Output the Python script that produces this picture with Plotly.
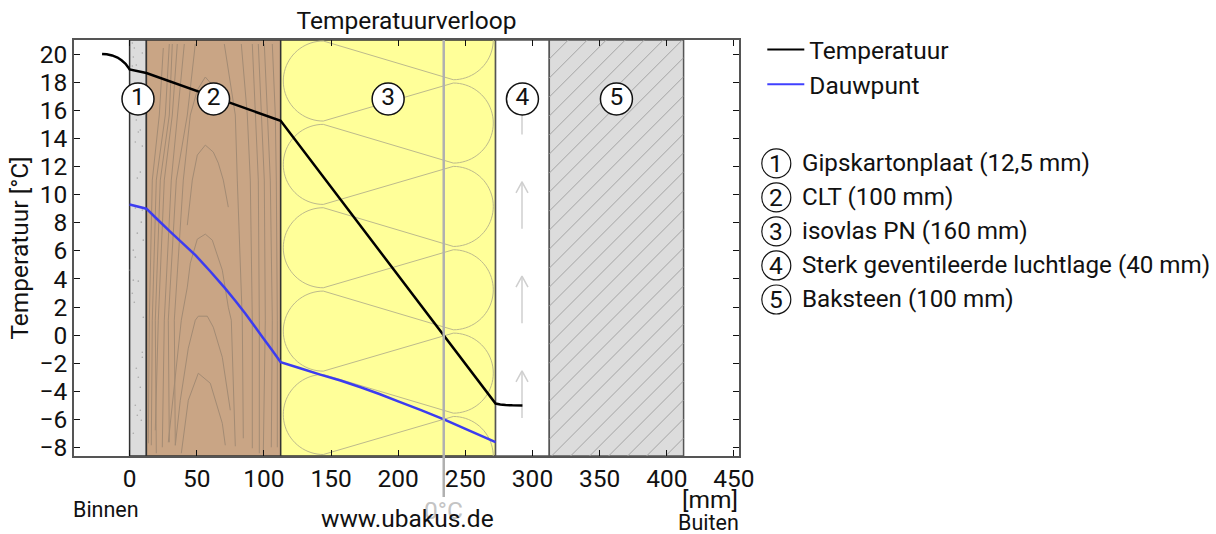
import math
import plotly.graph_objects as go

FONT = "Roboto"
W, H = 1216, 534
L, R, T, B = 73.7, 738.7, 40.0, 455.7
X0, XS = 129.3, 1.343   # pixel of 0 mm, px per mm
Y0, YS = 335.0, 14.05   # pixel of 0 degC, px per degC
BIG, LIST, SMALL = 24.5, 24.2, 21.5


def xd(px):
    return (px - X0) / XS


def yd(py):
    return (Y0 - py) / YS


def px_x(px):
    return (px - L) / (R - L)


def px_y(py):
    return 1 - (py - T) / (B - T)


# --- data -------------------------------------------------------------
temp_x = [-20.5, -17, -13, -9, -6, -3, -1, 0, 12.5, 112.5, 272.5, 276, 280, 285, 292.5]
temp_y = [20.0, 19.98, 19.9, 19.75, 19.55, 19.3, 19.05, 18.9, 18.65, 15.25, -4.86, -4.93, -4.97, -4.99, -5.0]
dew_x = [0, 12.5, 20, 30, 40, 49, 60, 71, 79, 86, 92, 99, 106, 112.5, 127, 142, 157, 172, 186, 200, 217, 234, 253, 272.5]
dew_y = [9.3, 9.0, 8.3, 7.38, 6.5, 5.69, 4.55, 3.35, 2.42, 1.56, 0.78, -0.14, -1.05, -1.92, -2.35, -2.8, -3.22, -3.7, -4.18, -4.7, -5.33, -5.98, -6.78, -7.6]

layer_names = ["Gipskartonplaat (12,5 mm)", "CLT (100 mm)", "isovlas PN (160 mm)",
               "Sterk geventileerde luchtlage (40 mm)", "Baksteen (100 mm)"]
layer_edges = [0, 12.5, 112.5, 272.5, 312.5, 412.5]
layer_fill = ["#dcdcdc", "#c9a585", "#ffff99", "#ffffff", "#dcdcdc"]
layer_line = ["#333333", "#333333", "#333333", "#555555", "#555555"]
layer_numbers = ["1", "2", "3", "4", "5"]
x_ticks = [0, 50, 100, 150, 200, 250, 300, 350, 400, 450]
y_ticks = [-8, -6, -4, -2, 0, 2, 4, 6, 8, 10, 12, 14, 16, 18, 20]
zero_crossing_mm = 233.9

# texture of the wood in pixels
grain_lines = [
    [(163, 48), (159, 115), (152, 180), (149, 320), (148, 443)],
    [(169, 44), (165, 115), (156, 180), (152, 320), (151, 445)],
    [(172, 44), (169, 115), (160, 180), (155, 320), (156, 453)],
    [(177, 44), (172, 115), (164, 180), (158, 320), (155, 430)],
    [(184, 44), (177, 115), (171, 180), (164, 320), (162, 447)],
    [(195, 44), (187, 115), (176, 180), (168, 320), (169, 442)],
    [(197, 90), (205, 77), (212, 85), (216, 95)],
    [(197, 90), (190, 115), (183, 180), (174, 320), (175, 445)],
    [(197, 155), (205, 145), (213, 152), (218, 163), (223, 180), (228, 207)],
    [(197, 155), (192, 180), (187, 225)],
    [(197, 239), (205, 234), (212, 240), (222, 270), (228, 307), (231, 320), (235, 446)],
    [(197, 239), (190, 263), (187, 287), (181, 320), (168, 442)],
    [(195, 320), (198, 316), (207, 316), (213, 327), (222, 357), (230, 410)],
    [(195, 320), (188, 348), (180, 400), (175, 445)],
    [(188, 400), (198, 373), (210, 383), (222, 423), (225, 445)],
    [(188, 400), (181, 453)],
    [(224, 44), (235, 115), (237, 180), (242, 320), (243, 438)],
    [(241, 44), (247, 115), (250, 180), (252, 320), (252, 448)],
    [(252, 44), (255, 115), (258, 180), (259, 320), (259, 453)],
    [(258, 44), (261, 115), (264, 180), (265, 320), (263, 453)],
    [(264, 44), (267, 115), (270, 180), (272, 320), (271, 447)],
    [(272, 44), (275, 115), (276, 180), (277, 320), (277, 447)],
]
# plaster speckles in pixels
speckle_px = [(132, 43), (134, 48), (133, 57), (142, 53), (136, 65), (132, 66), (140, 72),
              (136, 120), (140, 130), (138, 132), (135, 142), (142, 146), (140, 172), (137, 178),
              (135, 208), (142, 210), (141, 222), (137, 233), (143, 240), (133, 250), (135, 257),
              (130, 270), (133, 280), (138, 281), (132, 293), (134, 302), (143, 317), (142, 352),
              (142, 357), (136, 368), (138, 377), (140, 387), (135, 405), (140, 410), (137, 415),
              (141, 420), (133, 433)]

fig = go.Figure()

# --- texture traces ---------------------------------------------------
for line in grain_lines:
    fig.add_trace(go.Scatter(x=[xd(p[0]) for p in line], y=[yd(p[1]) for p in line], mode="lines",
                             line=dict(color="#a38b74", width=1), showlegend=False, hoverinfo="skip"))

fig.add_trace(go.Scatter(x=[xd(p[0]) for p in speckle_px], y=[yd(p[1]) for p in speckle_px], mode="markers",
                         marker=dict(size=1.6, color="#a8a8a8"), showlegend=False, hoverinfo="skip"))

# insulation wave
wx, wy = [], []
CL, CR, RAD, PER = 323.0, 453.0, 40.0, 83.3
for k in range(-2, 7):
    cy = 81.0 + PER * k
    for i in range(0, 41):
        a = math.pi / 2 + math.pi * i / 40
        wx.append(xd(CL + RAD * math.cos(a)))
        wy.append(yd(cy - RAD * math.sin(a)))
    cy2 = 123.0 + PER * k
    for i in range(0, 41):
        a = math.pi / 2 - math.pi * i / 40
        wx.append(xd(CR + RAD * math.cos(a)))
        wy.append(yd(cy2 - RAD * math.sin(a)))
fig.add_trace(go.Scatter(x=wx, y=wy, mode="lines", line=dict(color="#bdba8c", width=1, simplify=False),
                         showlegend=False, hoverinfo="skip"))

# brick hatch
hx, hy = [], []
x1, x2 = 312.5 * XS + X0, 412.5 * XS + X0
for k in range(-3, 36):
    base = x1 + 19.0 * k
    a = (base, T)
    b = (base - (B - T), B)
    t1 = max(0.0, (a[0] - x2) / (a[0] - b[0]))
    t2 = min(1.0, (a[0] - x1) / (a[0] - b[0]))
    if t2 <= t1:
        continue
    hx += [xd(a[0] + (b[0] - a[0]) * t1), xd(a[0] + (b[0] - a[0]) * t2), None]
    hy += [yd(a[1] + (b[1] - a[1]) * t1), yd(a[1] + (b[1] - a[1]) * t2), None]
fig.add_trace(go.Scatter(x=hx, y=hy, mode="lines", line=dict(color="#a4a4a4", width=1),
                         showlegend=False, hoverinfo="skip"))

# air arrows
ax, ay = [], []
for tip in [87.4, 181.7, 276.0, 370.7]:
    ax += [xd(521.7), xd(521.7), None, xd(515.7), xd(521.7), xd(527.7), None]
    ay += [yd(tip + 47), yd(tip), None, yd(tip + 11), yd(tip), yd(tip + 11), None]
fig.add_trace(go.Scatter(x=ax, y=ay, mode="lines", line=dict(color="#cfcfcf", width=1.5),
                         showlegend=False, hoverinfo="skip"))

# --- data traces ------------------------------------------------------
fig.add_trace(go.Scatter(x=dew_x, y=dew_y, mode="lines", line=dict(color="#3c3cf0", width=2.5, simplify=False),
                         showlegend=False))
fig.add_trace(go.Scatter(x=temp_x, y=temp_y, mode="lines", line=dict(color="#000000", width=2.5, simplify=False),
                         showlegend=False))
fig.add_trace(go.Scatter(x=[None], y=[None], mode="lines", name="Temperatuur",
                         line=dict(color="#000000", width=2), legendgroup="a"))
fig.add_trace(go.Scatter(x=[None], y=[None], mode="lines", name="Dauwpunt",
                         line=dict(color="#4040ff", width=2), legendgroup="b"))

mids = [(layer_edges[i] + layer_edges[i + 1]) / 2 for i in range(5)]
fig.add_trace(go.Scatter(x=mids, y=[16.8] * 5, mode="markers+text", text=layer_numbers,
                         textposition="middle center", textfont=dict(family=FONT, size=BIG, color="#111111"),
                         marker=dict(size=32, color="white", line=dict(color="#111111", width=1.5)),
                         showlegend=False, hoverinfo="skip"))

# --- shapes -----------------------------------------------------------
shapes = []
for i in range(5):
    shapes.append(dict(type="rect", xref="x", yref="y", layer="below",
                       x0=layer_edges[i], x1=layer_edges[i + 1], y0=yd(B), y1=yd(T),
                       fillcolor=layer_fill[i], line=dict(color=layer_line[i], width=1.5)))
shapes.append(dict(type="line", xref="x", yref="paper", x0=zero_crossing_mm, x1=zero_crossing_mm,
                   y0=px_y(496.7), y1=1, line=dict(color="#b0b0b0", width=2.5), layer="above"))

annotations = []


def text(px, py, s, size, anchor="center", color="#111111"):
    annotations.append(dict(xref="paper", yref="paper", x=px_x(px), y=px_y(py), text=s, showarrow=False,
                            xanchor=anchor, yanchor="middle", font=dict(family=FONT, size=size, color=color)))


text(443.5, 510, "0°C", BIG, color="#c4c4c4")
text(407, 518, "www.ubakus.de", BIG)
text(70.5, 509, "Binnen", SMALL, "left")
text(741, 522, "Buiten", SMALL, "right")
text(740, 499, "[mm]", BIG, "right")

for i, name in enumerate(layer_names):
    py = 163.3 + 34 * i
    shapes.append(dict(type="circle", xref="paper", yref="paper",
                       x0=px_x(776 - 14.5), x1=px_x(776 + 14.5), y0=px_y(py + 14.5), y1=px_y(py - 14.5),
                       line=dict(color="#111111", width=1.2)))
    text(776, py, layer_numbers[i], BIG)
    text(799.5, py, name, LIST, "left")

fig.update_layout(
    width=W, height=H, autosize=False,
    margin=dict(l=L, r=W - R, t=T, b=H - B, pad=0),
    paper_bgcolor="white", plot_bgcolor="white",
    font=dict(family=FONT, size=BIG, color="#111111"),
    title=dict(text="Temperatuurverloop", x=0.5, xref="paper", xanchor="center",
               y=1 - 20.5 / H, yanchor="middle", font=dict(family=FONT, size=BIG, color="#111111")),
    legend=dict(x=px_x(762), y=px_y(27), xanchor="left", yanchor="top", tracegroupgap=0, itemwidth=37,
                font=dict(family=FONT, size=BIG, color="#111111"), bgcolor="rgba(0,0,0,0)"),
    shapes=shapes, annotations=annotations,
    xaxis=dict(range=[xd(L), xd(R)], tickvals=x_ticks, ticks="inside", ticklen=6, tickcolor="#111111",
               showline=True, linecolor="#555555", linewidth=1.5, mirror="ticks", showgrid=False, zeroline=False,
               tickfont=dict(family=FONT, size=BIG, color="#111111"), layer="above traces"),
    yaxis=dict(range=[yd(B), yd(T)], tickvals=y_ticks, ticks="inside", ticklen=6, tickcolor="#111111",
               showline=True, linecolor="#555555", linewidth=1.5, mirror="ticks", showgrid=False, zeroline=False,
               tickfont=dict(family=FONT, size=BIG, color="#111111"), layer="above traces",
               title=dict(text="Temperatuur [°C]", standoff=4, font=dict(family=FONT, size=BIG, color="#111111"))),
)

fig.write_html("out.html", config=dict(displayModeBar=False), post_script="document.body.style.margin='0';")
